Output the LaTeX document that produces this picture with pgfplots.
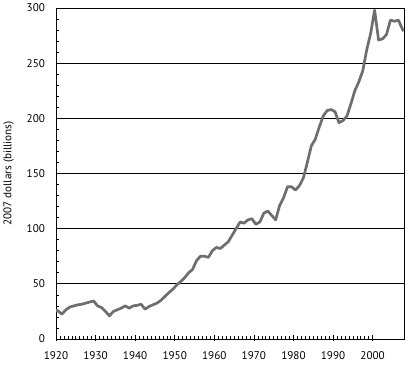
\documentclass[border=0pt]{standalone}
\usepackage{fontspec}
\setmainfont{PT Sans}
\usepackage{pgfplots}
\pgfplotsset{compat=1.18}
\definecolor{linegray}{RGB}{110,110,110}
\begin{document}
\begin{tikzpicture}[font=\fontsize{11.2}{13}\selectfont]
\useasboundingbox (0,0) rectangle (420bp,369bp);
\begin{axis}[
  at={(56bp,30bp)}, anchor=south west,
  scale only axis, width=348.3bp, height=331bp,
  xmin=1920, xmax=2008, ymin=0, ymax=300,
  xtick={1920,1930,...,2000}, minor x tick num=9,
  ytick={0,50,...,300}, minor y tick num=4,
  ymajorgrids, grid style={black, line width=0.8bp},
  axis line style={black, line width=0.9bp},
  tick style={black, line width=0.6bp},
  tick align=inside, xtick pos=bottom, ytick pos=left,
  major tick length=6bp, minor tick length=3bp,
  major x tick style={yshift=-2bp},
  major y tick style={draw=none},
  /pgf/number format/assume math mode=true,
  /pgf/number format/1000 sep={},
  xticklabel style={yshift=-9.5bp},
  yticklabel style={xshift=-7.5bp},
  ylabel={2007 dollars (billions)},
  ylabel style={at={(axis description cs:-0.136,0.5)}, anchor=center},
  clip=true,
]
\addplot[color=linegray, line width=2.7bp, line join=round, mark=none] coordinates {
(1920,26)(1920.5,25.5)(1921.5,22.5)(1922.5,26.5)(1923.5,29)(1924.5,30)(1925.5,31)(1926.5,31.5)(1927.5,32.5)(1928.5,33.5)(1929.5,34.5)(1930.5,30)(1931.5,28.5)(1932.5,25)(1933.5,21)(1934.5,25)(1935.5,26.5)(1936.5,28)(1937.5,30)(1938.5,28)(1939.5,30)(1940.5,30.5)(1941.5,31.5)(1942.5,27)(1943.5,29.5)(1944.5,31)(1945.5,32.5)(1946.5,35)(1947.5,38.5)(1948.5,42)(1949.5,45)(1950.5,49)(1951.5,52)(1952.5,55.5)(1953.5,60)(1954.5,63)(1955.5,71)(1956.5,75)(1957.5,75)(1958.5,74)(1959.5,80)(1960.5,83)(1961.5,82)(1962.5,85)(1963.5,88)(1964.5,94)(1965.5,100)(1966.5,106)(1967.5,105)(1968.5,108)(1969.5,109)(1970.5,104)(1971.5,106)(1972.5,114)(1973.5,116)(1974.5,112)(1975.5,108)(1976.5,121)(1977.5,128)(1978.5,138)(1979.5,138)(1980.5,135)(1981.5,139)(1982.5,146)(1983.5,160)(1984.5,175)(1985.5,181)(1986.5,192)(1987.5,202)(1988.5,207)(1989.5,208)(1990.5,206)(1991.5,196)(1992.5,198)(1993.5,202)(1994.5,213)(1995.5,225)(1996.5,233)(1997.5,243)(1998.5,262)(1999.5,277)(2000.5,298)(2001.5,271)(2002.5,272)(2003.5,276)(2004.5,289)(2005.5,288)(2006.5,289)(2007.5,281)(2007.8,279)
};
\end{axis}
\end{tikzpicture}
\end{document}
